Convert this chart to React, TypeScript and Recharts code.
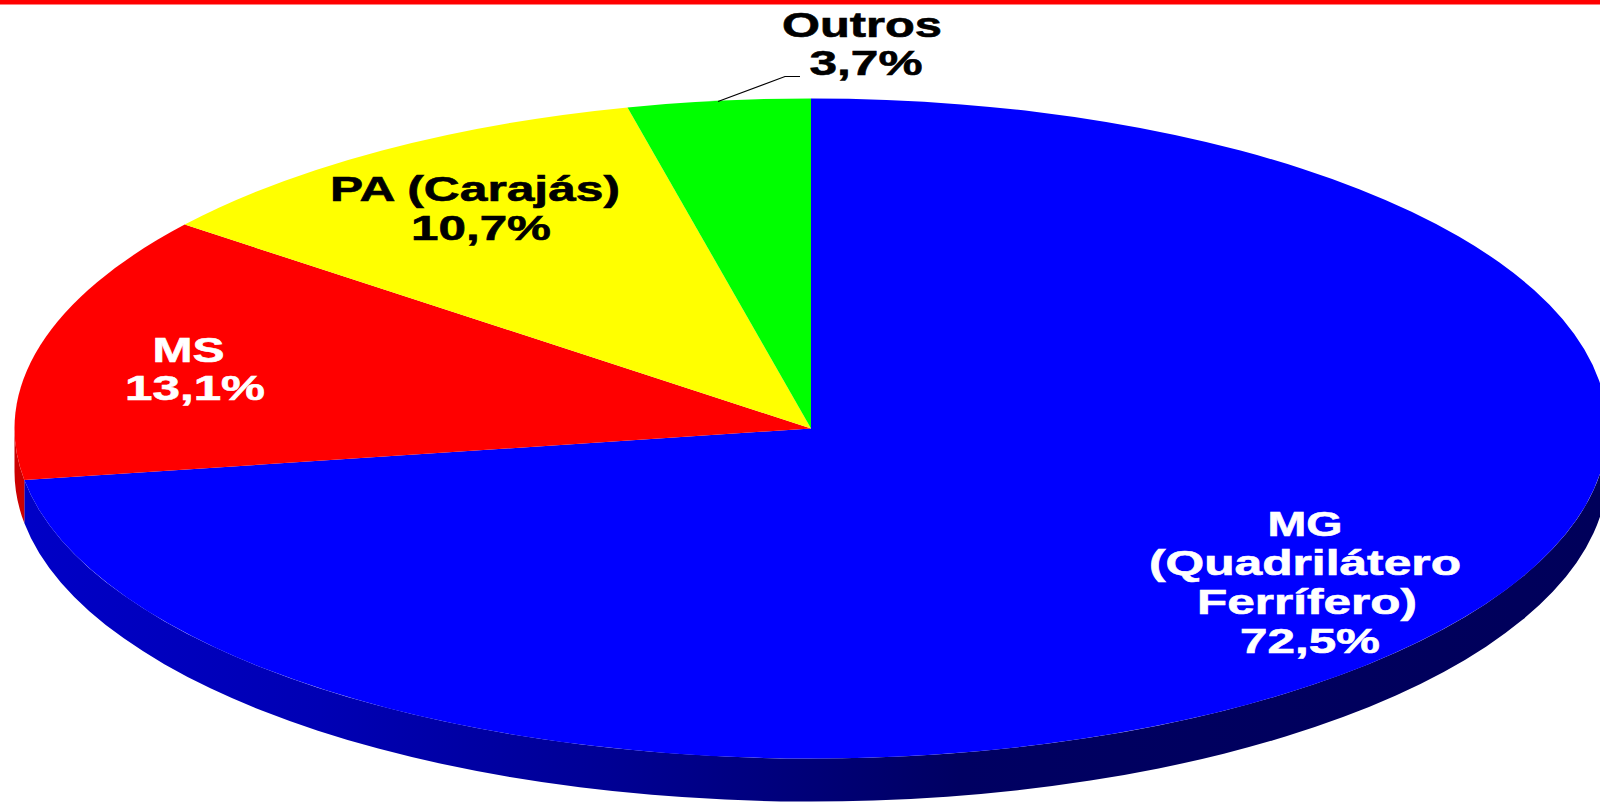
import React from "react";
import { PieChart, Pie } from "recharts";

const categories = ["MG (Quadrilátero Ferrífero)", "MS", "PA (Carajás)", "Outros"];
const shares = [72.5, 13.1, 10.7, 3.7];
const topColors = ["#0000ff", "#ff0000", "#ffff00", "#00ff00"];
const wallColors = ["url(#blueWall)", "#cc0000", "#cccc00", "#00cc00"];
const labelLines = [
  ["MG", "(Quadrilátero", "Ferrífero)", "72,5%"],
  ["MS", "13,1%"],
  ["PA (Carajás)", "10,7%"],
  ["Outros", "3,7%"],
];
const labelColors = ["#ffffff", "#ffffff", "#000000", "#000000"];

const data = categories.map((name, i) => ({ name, value: shares[i], index: i }));

// Layout of the squashed disc
const W = 1600;
const H = 802;
const CX = 811;
const CY = 428.5;
const RX = 796.5;
const SQUASH = 330 / 796.5;
const DEPTH = 43;

// Label layout: [centre x, baseline y, text width] for every line
const labelLayout: number[][][] = [
  [[1305, 536, 75], [1305, 575, 312], [1307, 614, 220], [1310, 653, 140]],
  [[188.5, 362, 72], [195, 400, 140]],
  [[475, 201, 290], [481, 240, 140]],
  [[862, 37, 160], [866, 75, 113]],
];

const pt = (cx: number, cy: number, r: number, deg: number, dy = 0) => {
  const a = (deg * Math.PI) / 180;
  return [cx + r * Math.cos(a), cy - r * SQUASH * Math.sin(a) + dy];
};

const TopFace = (p: any) => {
  const { cx, cy, outerRadius: r, startAngle, endAngle, payload, index } = p;
  const i = payload?.index ?? index ?? 0;
  const [x1, y1] = pt(cx, cy, r, startAngle);
  const [x2, y2] = pt(cx, cy, r, endAngle);
  const large = Math.abs(startAngle - endAngle) > 180 ? 1 : 0;
  const d = `M${cx},${cy}L${x1},${y1}A${r},${r * SQUASH} 0 ${large} 1 ${x2},${y2}Z`;
  return <path d={d} fill={topColors[i]} stroke="none" />;
};

const SideWall = (p: any) => {
  const { cx, cy, outerRadius: r, startAngle, endAngle, payload, index } = p;
  const i = payload?.index ?? index ?? 0;
  const from = Math.min(startAngle, 0);
  const to = Math.max(endAngle, -180);
  if (from <= to) return <g />;
  const [x1, y1] = pt(cx, cy, r, from);
  const [x2, y2] = pt(cx, cy, r, to);
  const ry = r * SQUASH;
  const d = `M${x1},${y1}A${r},${ry} 0 0 1 ${x2},${y2}L${x2},${y2 + DEPTH}A${r},${ry} 0 0 0 ${x1},${y1 + DEPTH}Z`;
  return <path d={d} fill={wallColors[i]} stroke="none" />;
};

const SliceLabel = (p: any) => {
  const i = p.payload?.index ?? p.index ?? 0;
  return (
    <g>
      {labelLines[i].map((line, j) => {
        const [x, y, w] = labelLayout[i][j];
        return (
          <text
            key={line}
            x={x}
            y={y}
            textAnchor="middle"
            textLength={w}
            lengthAdjust="spacingAndGlyphs"
            fontFamily="'Liberation Sans', Arial, sans-serif"
            fontWeight={700}
            fontSize={35}
            fill={labelColors[i]}
            stroke={labelColors[i]}
            strokeWidth={0.6}
          >
            {line}
          </text>
        );
      })}
      {i === 3 ? (
        <polyline points="718,101.5 785,76.5 800,76.5" fill="none" stroke="#000000" strokeWidth={1.2} />
      ) : null}
    </g>
  );
};

export default function App() {
  return (
    <div style={{ position: "absolute", left: 0, top: 0, width: W, height: H, overflow: "hidden", background: "#fff" }}>
      <PieChart width={W} height={H} margin={{ top: 0, right: 0, bottom: 0, left: 0 }}>
        <defs>
          <linearGradient id="blueWall" gradientUnits="userSpaceOnUse" x1={0} y1={0} x2={W} y2={0}>
            <stop offset="0" stopColor="#0000c8" />
            <stop offset="0.2" stopColor="#0000b4" />
            <stop offset="0.38" stopColor="#000094" />
            <stop offset="0.6" stopColor="#000062" />
            <stop offset="1" stopColor="#00005a" />
          </linearGradient>
        </defs>
        <rect x={0} y={0} width={W} height={4.5} fill="#ff0000" />
        <Pie
          data={data}
          dataKey="value"
          nameKey="name"
          cx={CX}
          cy={CY}
          outerRadius={RX}
          innerRadius={0}
          startAngle={90}
          endAngle={-270}
          stroke="none"
          rootTabIndex={-1}
          shape={SideWall}
          isAnimationActive={false}
        />
        <Pie
          data={data}
          dataKey="value"
          nameKey="name"
          cx={CX}
          cy={CY}
          outerRadius={RX}
          innerRadius={0}
          startAngle={90}
          endAngle={-270}
          stroke="none"
          rootTabIndex={-1}
          shape={TopFace}
          label={SliceLabel}
          labelLine={false}
          isAnimationActive={false}
        />
      </PieChart>
    </div>
  );
}
